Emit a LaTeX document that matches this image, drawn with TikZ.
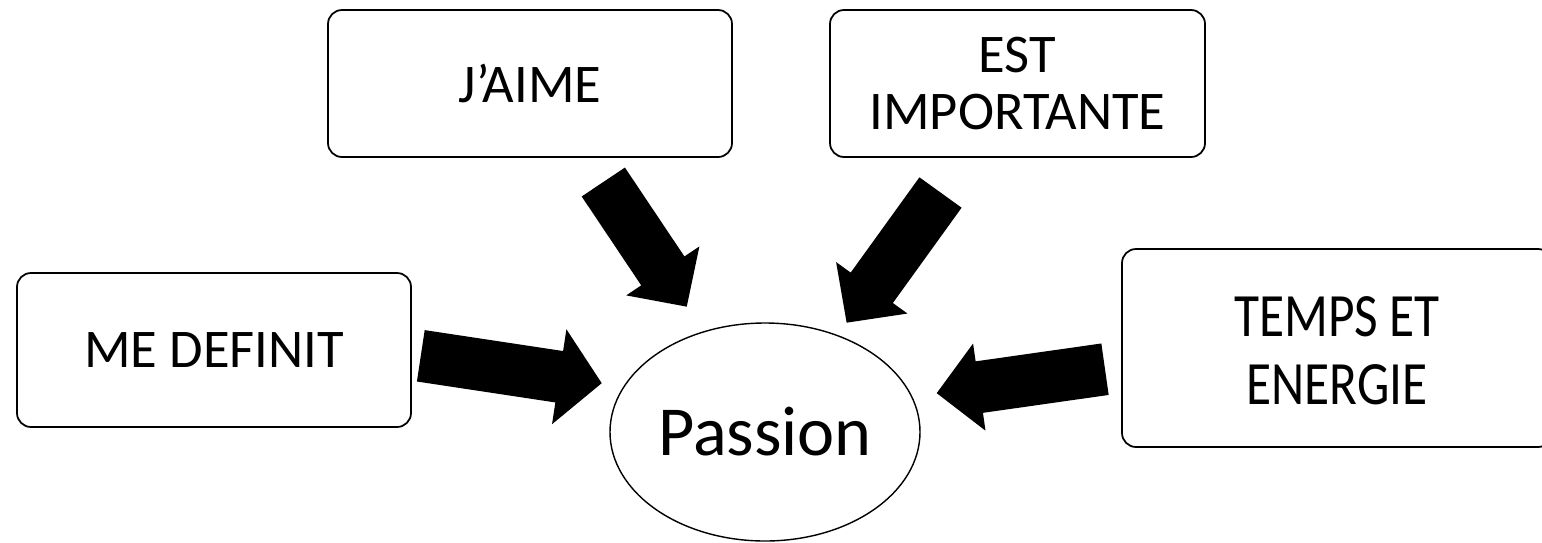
\documentclass[tikz,border=0pt]{standalone}
\usepackage{fontspec}
\setmainfont{Carlito}
\usetikzlibrary{shapes.geometric}

\tikzset{
	box/.style={draw, line width=0.5pt, rounded corners=0.14cm, align=center, inner sep=0pt},
	pics/fatarrow/.style 2 args={code={
		\fill (0,-0.26) -- ({#1-0.43},-0.26) -- ({#1-0.43},-#2) -- (#1,0)
			-- ({#1-0.43},#2) -- ({#1-0.43},0.26) -- (0,0.26) -- cycle;
	}}
}

\begin{document}
\begin{tikzpicture}
	\useasboundingbox (0,0) rectangle (15.42,-5.42);
	\clip (0,0) rectangle (15.42,-5.42);

	\node[box, minimum width=4.04cm, minimum height=1.47cm, font=\fontsize{15.5}{17}\selectfont] (jaime) at (5.30,-0.835) {J’AIME};
	\node[box, minimum width=3.75cm, minimum height=1.47cm, font=\fontsize{15.5}{16.3}\selectfont] (important) at (10.175,-0.835) {EST\\IMPORTANTE};
	\node[box, minimum width=3.94cm, minimum height=1.54cm, font=\fontsize{15.5}{17}\selectfont] (definit) at (2.14,-3.50) {ME DEFINIT};
	\node[box, minimum width=4.30cm, minimum height=1.98cm, font=\fontsize{14.6}{16.1}\selectfont] (temps) at (13.37,-3.48)
		{\raisebox{-0.09cm}[\height][\depth]{\scalebox{1}[1.2]{\begin{tabular}{@{}c@{}}TEMPS ET\\ENERGIE\end{tabular}}}};

	\node[ellipse, draw, line width=0.4pt, minimum width=3.10cm, minimum height=2.18cm, inner sep=0pt, font=\fontsize{20}{24}\selectfont] (passion) at (7.65,-4.32) {Passion};

	\pic[rotate=-56.2] at (6.033,-1.820) {fatarrow={1.50}{0.44}};
	\pic[rotate=-125.8] at (9.405,-1.925) {fatarrow={1.605}{0.44}};
	\pic[rotate=-8.6] at (4.208,-3.558) {fatarrow={1.83}{0.48}};
	\pic[rotate=188.1] at (11.05,-3.692) {fatarrow={1.70}{0.44}};
\end{tikzpicture}
\end{document}
